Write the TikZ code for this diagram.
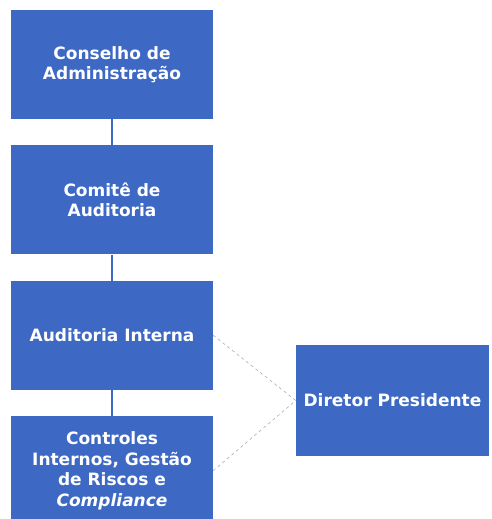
\documentclass[tikz,border=0pt]{standalone}
\usepackage{fontspec}
\setmainfont{DejaVu Sans}
\usepackage{xcolor}
\usetikzlibrary{positioning}
\definecolor{boxblue}{HTML}{3D69C4}
\definecolor{linkgray}{HTML}{B0B6C2}

\begin{document}
\begin{tikzpicture}[x=1pt,y=1pt,node distance=26pt,
    orgbox/.style={rectangle,fill=boxblue,text=white,align=center,
        font=\bfseries\fontsize{17}{20.5}\selectfont,
        minimum width=202pt,minimum height=109pt,inner sep=0pt}]
    \useasboundingbox (0,0) rectangle (491,-519);

    \node[orgbox] (CA) at (112,-64.5) {Conselho de\\Administração};
    \node[orgbox,below=of CA] (CAud) {Comitê de\\Auditoria};
    \node[orgbox,below=of CAud] (AI) {Auditoria Interna};
    \node[orgbox,below=of AI] (CI) {Controles\\Internos, Gestão\\de Riscos e\\\textit{Compliance}};
    \node[orgbox,minimum width=193pt,minimum height=111pt] (DP) at (392.5,-400.5) {Diretor Presidente};

    \draw[boxblue,line width=2.2pt] (CA) -- (CAud);
    \draw[boxblue,line width=2.2pt] (CAud) -- (AI);
    \draw[boxblue,line width=2.2pt] (AI) -- (CI);
    \draw[linkgray,dashed,line width=0.7pt] (AI.east) -- (DP.west);
    \draw[linkgray,dashed,line width=0.7pt] (CI.east) -- (DP.west);
\end{tikzpicture}
\end{document}
